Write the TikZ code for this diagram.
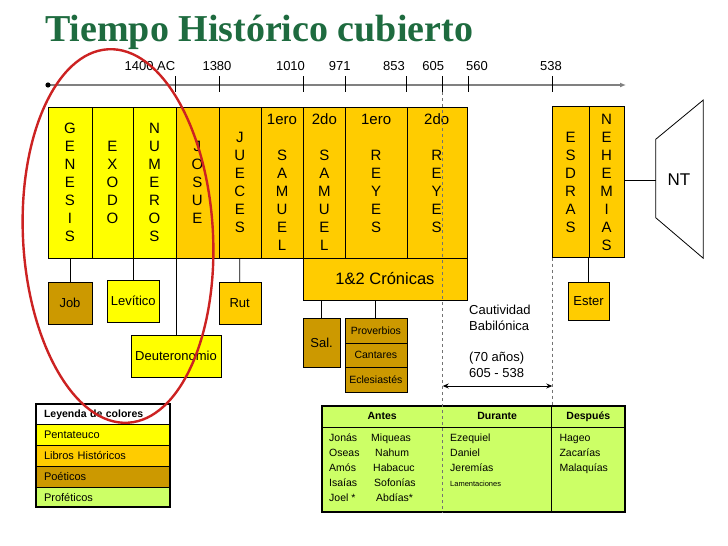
\documentclass[tikz,border=0pt]{standalone}
\usepackage{fontspec}
\setmainfont{Liberation Sans}
\newfontfamily\titulofont{Liberation Serif}
\usetikzlibrary{arrows.meta,positioning}
\definecolor{penta}{HTML}{FFFF00}
\definecolor{histo}{HTML}{FFCC00}
\definecolor{poeti}{HTML}{CC9900}
\definecolor{profe}{HTML}{CCFF66}
\definecolor{verdetit}{HTML}{1E6B3F}
\definecolor{rojo}{HTML}{CC2222}
\definecolor{linea}{HTML}{808080}

\begin{document}
\begin{tikzpicture}[
    x=1pt,y=-1pt,
    col/.style   = {draw,inner sep=0pt,outer sep=0pt,align=center,
                    minimum height=151.3pt,font=\fontsize{15}{18}\selectfont},
    caja/.style  = {draw,inner sep=0pt,outer sep=0pt,align=center,
                    font=\fontsize{13}{15}\selectfont},
    chica/.style = {draw,inner sep=0pt,outer sep=0pt,fill=poeti,minimum width=61.7pt,
                    minimum height=24.5pt,font=\fontsize{10.5}{12}\selectfont},
    fila/.style  = {draw,inner xsep=8pt,inner ysep=0pt,outer sep=0pt,text width=118pt,
                    minimum height=20.7pt,align=left,font=\fontsize{11}{13}\selectfont},
    celda/.style = {fill=profe,inner sep=0pt,outer sep=0pt,minimum height=21.7pt,
                    text height=7.6pt,text depth=2pt,
                    font=\bfseries\fontsize{10.5}{12}\selectfont},
    lista/.style = {inner sep=0pt,anchor=north west,align=left,
                    font=\fontsize{10.5}{15}\selectfont},
    con/.style   = {draw,line width=0.8pt},
    guia/.style  = {draw=black!55,dashed,line width=1pt},
  ]
  \useasboundingbox (0,0) rectangle (728,546);

  \node[anchor=base west,inner sep=0pt,text=verdetit,
        font=\titulofont\bfseries\fontsize{38}{40}\selectfont] (titulo) at (45,41)
       {Tiempo Histórico cubierto};

  % linea de tiempo
  \coordinate (t0) at (48,85);
  \coordinate (t1) at (626,85);
  \draw[linea,line width=1.5pt,-{Latex[length=6pt,width=5pt]}] (t0) -- (t1);
  \fill (t0) circle (2.6);
  \foreach \x/\lx/\t [count=\i] in {175.7/150/1400 AC,219.3/217/1380,303.3/290.5/1010,
      345.7/339.7/971,406.7/394/853,442.7/433.3/605,468.3/477/560,552.7/551/538} {
    \draw[line width=0.8pt] (\x,76) -- (\x,92);
    \node[font=\fontsize{13}{15}\selectfont] (fecha\i) at (\lx,66) {\t};
  }

  % libros
  \node[col,fill=penta,minimum width=43.4pt] (gen)  at (70,182.35)    {G\\E\\N\\E\\S\\I\\S};
  \node[col,fill=penta,minimum width=41.6pt] (exo)  at (112.5,182.35) {E\\X\\O\\D\\O};
  \node[col,fill=penta,minimum width=42.4pt] (num)  at (154.5,182.35) {N\\U\\M\\E\\R\\O\\S};
  \node[col,fill=histo,minimum width=43.3pt] (jos)  at (197.35,182.35){J\\O\\S\\U\\E};
  \node[col,fill=histo,minimum width=41.7pt] (jue)  at (239.85,182.35){J\\U\\E\\C\\E\\S};
  \node[col,fill=histo,minimum width=42.6pt] (sam1) at (282,182.35)   {1ero\\\mbox{}\\S\\A\\M\\U\\E\\L};
  \node[col,fill=histo,minimum width=42.2pt] (sam2) at (324.4,182.35) {2do\\\mbox{}\\S\\A\\M\\U\\E\\L};
  \node[col,fill=histo,minimum width=61.2pt] (rey1) at (376.1,182.35) {1ero\\\mbox{}\\R\\E\\Y\\E\\S\\\mbox{}};
  \node[col,fill=histo,minimum width=60pt]   (rey2) at (436.7,182.35) {2do\\\mbox{}\\R\\E\\Y\\E\\S\\\mbox{}};
  \node[col,fill=histo,minimum width=36.7pt] (esd)  at (570.65,182)   {E\\S\\D\\R\\A\\S};
  \node[col,fill=histo,minimum width=35.3pt] (neh)  at (606.65,182)   {N\\E\\H\\E\\M\\I\\A\\S};

  \node[caja,fill=histo,minimum width=163.4pt,minimum height=42pt,
        font=\fontsize{16.5}{18}\selectfont] (cron) at (385,279) {1\&2 Crónicas};

  \node[caja,fill=poeti,minimum width=43.4pt,minimum height=42pt]   (job) at (70,303.3)    {Job};
  \node[caja,fill=penta,minimum width=52pt,minimum height=42.3pt]   (lev) at (133.3,301.15){Levítico};
  \node[caja,fill=penta,minimum width=90.6pt,minimum height=42pt]   (deu) at (176,356.3)   {Deuteronomio};
  \node[caja,fill=histo,minimum width=42pt,minimum height=42pt]     (rut) at (239.7,303.3) {Rut};
  \node[caja,fill=poeti,minimum width=36.7pt,minimum height=49pt]   (sal) at (321.65,342.8){Sal.};
  \node[chica] (prov) at (375.85,330.55) {Proverbios};
  \node[chica,below=0pt of prov] (cant) {Cantares};
  \node[chica,below=0pt of cant] (ecl)  {Eclesiastés};
  \node[caja,fill=histo,minimum width=41.6pt,minimum height=37.7pt] (est) at (588.5,301.15) {Ester};

  \draw[con] (gen.south) -- (job.north);
  \draw[con] (lev.north) -- (lev.north |- exo.south);
  \draw[con] (deu.north) -- (deu.north |- num.south);
  \draw[con] (jue.south) -- (rut.north);
  \draw[con] (sal.north) -- (sal.north |- cron.south);
  \draw[con] (prov.north) -- (prov.north |- cron.south);
  \draw[con] (est.north) -- (est.north |- esd.south);

  % NT
  \draw[con,fill=white] (655.7,139.3) -- (703.3,100) -- (703.3,258.3) -- (655.7,217.7) -- cycle;
  \coordinate (ntw) at (655.7,180);
  \node[font=\fontsize{17}{19}\selectfont] (nt) at (679,180) {NT};
  \draw[con] (neh.east |- ntw) -- (ntw);

  % cautividad
  \node[inner sep=0pt,anchor=north west,align=left,font=\fontsize{13}{15.7}\selectfont]
       (cautiv) at (469,305) {Cautividad\\Babilónica\\\mbox{}\\(70 años)\\605 - 538};
  \coordinate (ca) at (442.7,386);
  \coordinate (cb) at (552.3,386);
  \draw[{Stealth[length=6pt,width=5pt]}-{Stealth[length=6pt,width=5pt]},line width=0.8pt] (ca) -- (cb);

  % leyenda
  \node[fila,fill=white,font=\bfseries\fontsize{10.5}{13}\selectfont] (ley) at (103,414.3) {Leyenda de colores};
  \node[fila,fill=penta,below=0pt of ley] (pen) {Pentateuco};
  \node[fila,fill=histo,below=0pt of pen] (his) {Libros Históricos};
  \node[fila,fill=poeti,below=0pt of his] (poe) {Poéticos};
  \node[fila,fill=profe,below=0pt of poe] (pro) {Proféticos};
  \draw[line width=2pt] (ley.north west) rectangle (pro.south east);

  % profetas
  \node[celda,minimum width=121pt]  (antes) at (382.2,416.85) {Antes};
  \node[celda,minimum width=109pt]  (dur)   at (497.2,416.85) {Durante};
  \node[celda,minimum width=73.3pt] (desp)  at (588.35,416.85){Después};
  \node[fill=profe,inner sep=0pt,outer sep=0pt,minimum width=303.3pt,minimum height=84.6pt]
       (cuerpo) at (473.35,470) {};
  \draw[con] (antes.south west) -- (desp.south east);
  \draw[con] (dur.north east) -- (dur.north east |- cuerpo.south);
  \draw[line width=2pt] (antes.north west) rectangle (cuerpo.south east);

  \node[lista] (ant1) at (329,434) {Jonás\\Oseas\\Amós\\Isaías\\Joel *};
  \node[lista] (ant2) at (371,434) {Miqueas\\\hspace*{4pt}Nahum\\\hspace*{2pt}Habacuc\\
                                    \hspace*{3pt}Sofonías\\\hspace*{5pt}Abdías*};
  \node[lista] (dur1) at (450,434) {Ezequiel\\Daniel\\Jeremías\\{\fontsize{7.5}{8}\selectfont Lamentaciones}};
  \node[lista] (des1) at (559.3,434) {Hageo\\Zacarías\\Malaquías};

  % guias
  \coordinate (d0) at (442.7,92);
  \coordinate (d1) at (442.7,512.3);
  \coordinate (d3) at (552.3,406);
  \draw[guia] (d0) -- (d1);
  \draw[guia] (esd.south west) -- (d3);

  \draw[rojo,line width=2.4pt,rotate around={3:(118,236)}] (118,236) ellipse [x radius=95,y radius=187];

\end{tikzpicture}
\end{document}
